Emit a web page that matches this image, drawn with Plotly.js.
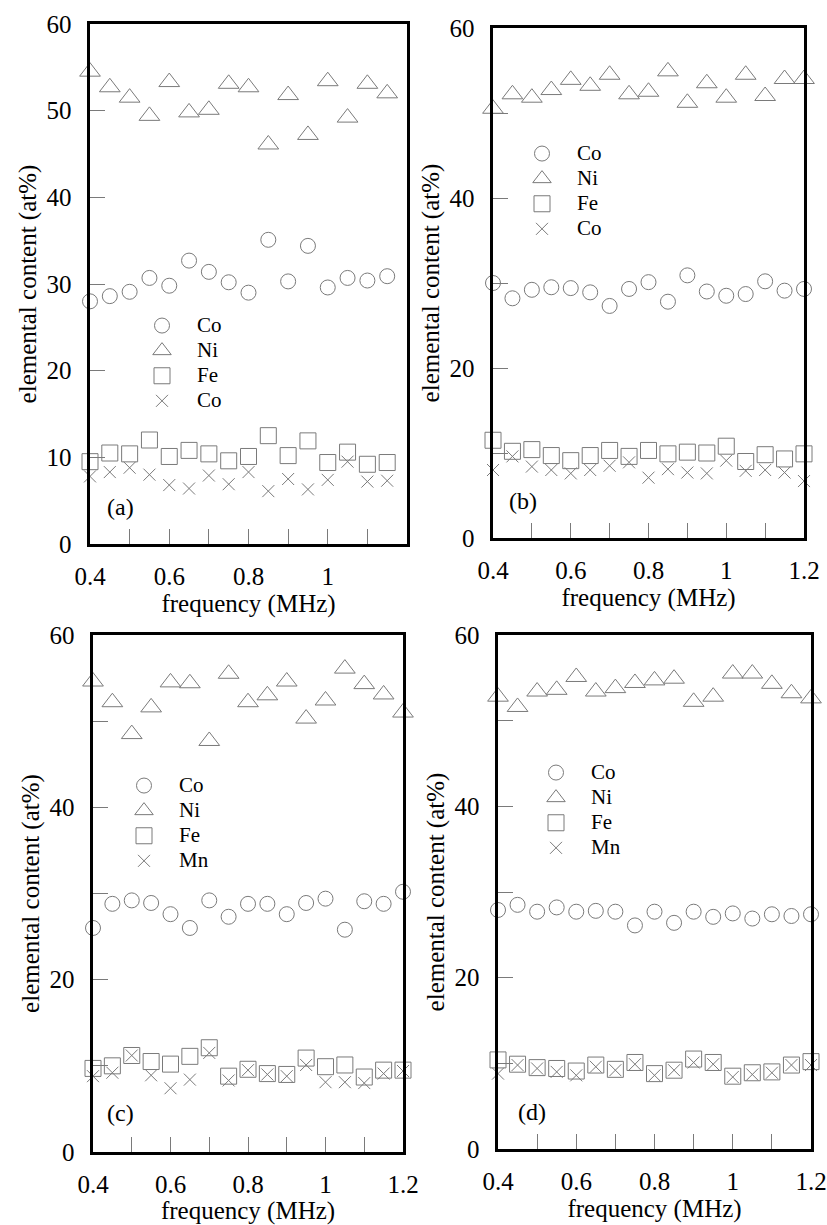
<!DOCTYPE html>
<html><head><meta charset="utf-8">
<script src="https://cdn.plot.ly/plotly-3.0.1.min.js"></script>
<style>html,body{margin:0;padding:0;background:#fff}</style>
</head><body><div id="chart" style="width:827px;height:1225px"></div>
<script>
// ---------- data ----------
const freqA = [0.4,0.45,0.5,0.55,0.6,0.65,0.7,0.75,0.8,0.85,0.9,0.95,1.0,1.05,1.1,1.15];
const freqBCD = [0.4,0.45,0.5,0.55,0.6,0.65,0.7,0.75,0.8,0.85,0.9,0.95,1.0,1.05,1.1,1.15,1.2];

// panel (a)
const coA = [28.0,28.6,29.1,30.7,29.8,32.7,31.4,30.2,29.0,35.1,30.3,34.4,29.6,30.7,30.4,30.9];
const niA = [54.5,52.7,51.5,49.4,53.3,49.8,50.1,53.1,52.7,46.1,51.8,47.2,53.4,49.2,53.1,52.0];
const feA = [9.5,10.5,10.4,12.0,10.1,10.8,10.4,9.6,10.1,12.5,10.2,11.9,9.4,10.6,9.2,9.4];
const x4A = [7.8,8.3,8.8,8.0,6.8,6.4,7.9,6.9,8.3,6.1,7.5,6.3,7.4,9.5,7.2,7.3];

// panel (b)
const coB = [30.0,28.2,29.2,29.5,29.4,28.9,27.3,29.3,30.1,27.8,30.9,29.0,28.5,28.7,30.2,29.1,29.3];
const niB = [50.5,52.2,51.8,52.7,53.9,53.2,54.5,52.2,52.5,54.9,51.2,53.5,51.8,54.5,52.0,54.0,54.0];
const feB = [11.5,10.2,10.4,9.7,9.1,9.7,10.3,9.6,10.3,9.9,10.1,10.0,10.8,9.0,9.8,9.3,9.9];
const x4B = [8.0,9.6,8.4,8.0,7.6,8.0,8.5,8.9,7.1,8.1,7.7,7.6,9.1,7.9,8.0,7.7,6.7];

// panel (c)
const coC = [26.0,28.8,29.2,28.9,27.6,26.0,29.2,27.3,28.8,28.8,27.6,28.9,29.4,25.8,29.1,28.8,30.2];
const niC = [54.6,52.2,48.5,51.6,54.5,54.4,47.7,55.5,52.2,53.0,54.6,50.3,52.4,56.1,54.3,53.1,51.0];
const feC = [9.7,10.0,11.2,10.5,10.2,11.1,12.1,8.8,9.6,9.1,9.0,10.9,9.9,10.1,8.7,9.5,9.5];
const mnC = [8.8,9.2,11.2,8.9,7.4,8.4,11.5,8.3,9.5,9.0,8.8,10.1,8.1,8.1,8.0,9.1,9.4];

// panel (d)
const coD = [27.9,28.5,27.7,28.2,27.7,27.8,27.7,26.1,27.7,26.4,27.7,27.1,27.5,26.9,27.4,27.2,27.4];
const niD = [52.8,51.6,53.4,53.6,55.1,53.4,53.8,54.4,54.7,54.9,52.2,52.8,55.5,55.5,54.3,53.2,52.6];
const feD = [10.4,9.9,9.5,9.4,9.1,9.8,9.3,10.1,8.8,9.2,10.5,10.1,8.5,8.9,9.0,9.8,10.2];
const mnD = [8.8,9.8,9.4,9.0,8.6,9.6,9.2,9.9,8.6,9.2,10.1,9.9,8.4,8.7,8.9,9.8,9.8];

const namesAB = ['Co','Ni','Fe','Co'];
const namesCD = ['Co','Ni','Fe','Mn'];
const panelLabels = ['(a)','(b)','(c)','(d)'];
const xTickVals = [0.4,0.6,0.8,1.0,1.2];
const xTickTextA = ['0.4','0.6','0.8','1',''];
const xTickText = ['0.4','0.6','0.8','1','1.2'];
const yTickValsA = [0,10,20,30,40,50,60];
const yTickVals = [0,20,40,60];
const xTitle = 'frequency (MHz)';
const yTitle = 'elemental content (at%)';

// ---------- styling ----------
const FONT = 'Liberation Serif';
const GRAY = '#7a7a7a';
const symbols = ['circle-open','triangle-up-open','square-open','x-thin-open'];
const sizes = [15,18,16,12];
const legendText = n => '<span style="font-size:21px">' + n + '</span>';

const panels = [
  {x:freqA, ys:[coA,niA,feA,x4A], names:namesAB},
  {x:freqBCD, ys:[coB,niB,feB,x4B], names:namesAB},
  {x:freqBCD, ys:[coC,niC,feC,mnC], names:namesCD},
  {x:freqBCD, ys:[coD,niD,feD,mnD], names:namesCD}
];

const traces = [];
panels.forEach((p, i) => {
  const sfx = i === 0 ? '' : String(i + 1);
  p.ys.forEach((ys, k) => {
    traces.push({
      type:'scatter', mode:'markers', x:p.x, y:ys, name:legendText(p.names[k]),
      xaxis:'x' + sfx, yaxis:'y' + sfx, legend:'legend' + sfx,
      cliponaxis:false,
      marker:{symbol:symbols[k], size:sizes[k], color:GRAY, line:{color:GRAY, width:1}}
    });
  });
});

const W = 827, H = 1225;
// plot-area boxes in pixels: [left, right, top, bottom]
const boxes = [[90,407,24,544],[493,804,28,538],[93,403,635,1152],[498,811,635,1149]];
const legendPos = [[127,308],[507,136],[109,768],[521,755]];
const labelPos = [[120,507],[523,501],[121,1113],[532,1112]];

const layout = {
  width:W, height:H, margin:{l:0,r:0,t:0,b:0},
  paper_bgcolor:'#fff', plot_bgcolor:'#fff', showlegend:true,
  font:{family:FONT, color:'#000'}, annotations:[]
};

boxes.forEach((b, i) => {
  const sfx = i === 0 ? '' : String(i + 1);
  const common = {
    showline:true, mirror:true, linecolor:'#000', linewidth:2.6,
    ticks:'inside', ticklen:15, tickcolor:GRAY, tickwidth:1,
    showgrid:false, zeroline:false, automargin:false,
    tickfont:{family:FONT, size:25, color:'#000'}
  };
  layout['xaxis' + sfx] = Object.assign({}, common, {
    domain:[b[0]/W, b[1]/W], anchor:'y' + sfx, range:[0.4,1.2],
    tickmode:'array', tickvals:xTickVals, ticktext: i === 0 ? xTickTextA : xTickText,
    ticklabelstandoff:8,
    minor:{tickmode:'array', tickvals:[0.5,0.7,0.9,1.1], ticks:'inside', ticklen:15, tickcolor:GRAY, tickwidth:1},
    title:{text:xTitle, font:{family:FONT, size:25, color:'#000'}, standoff:4}
  });
  layout['yaxis' + sfx] = Object.assign({}, common, {
    domain:[1 - b[3]/H, 1 - b[2]/H], anchor:'x' + sfx, range:[0,60],
    tickmode:'array', tickvals: i === 0 ? yTickValsA : yTickVals,
    ticklabelstandoff:11,
    minor: i === 0 ? undefined : {tickmode:'array', tickvals:[10,30,50], ticks:'inside', ticklen:15, tickcolor:GRAY, tickwidth:1},
    title:{text:yTitle, font:{family:FONT, size:25, color:'#000'}, standoff:3}
  });
  layout['legend' + sfx] = {
    x:legendPos[i][0]/W, y:1 - legendPos[i][1]/H, xanchor:'left', yanchor:'top',
    bgcolor:'rgba(0,0,0,0)', borderwidth:0, itemwidth:60,
    font:{family:FONT, size:17, color:'#000'}
  };
  layout.annotations.push({
    xref:'paper', yref:'paper', x:labelPos[i][0]/W, y:1 - labelPos[i][1]/H,
    xanchor:'center', yanchor:'middle', showarrow:false, text:panelLabels[i],
    font:{family:FONT, size:24, color:'#000'}
  });
});

Plotly.newPlot('chart', traces, layout, {displayModeBar:false, staticPlot:true});
</script></body></html>
